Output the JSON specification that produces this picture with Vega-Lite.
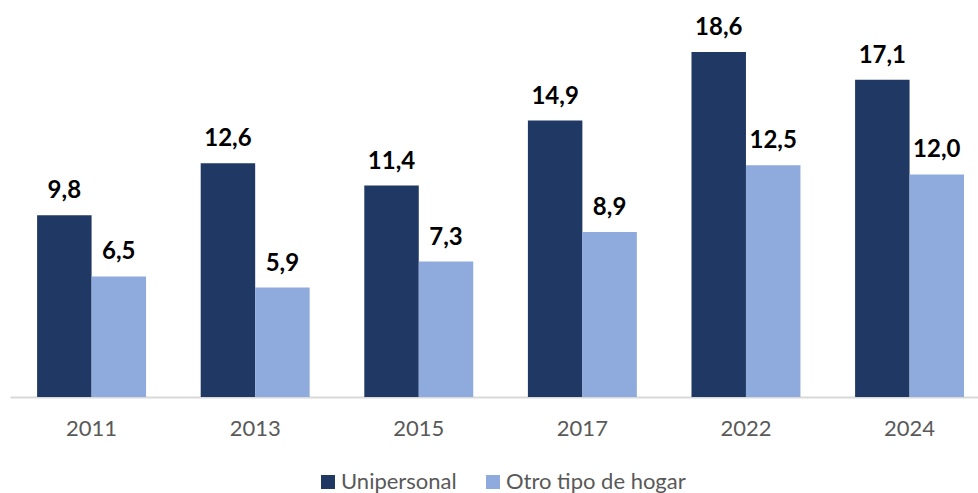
{
  "$schema": "https://vega.github.io/schema/vega-lite/v6.json",
  "autosize": "none",
  "width": 968,
  "height": 371,
  "padding": {"left": 10, "top": 26, "right": 0, "bottom": 96},
  "background": "white",
  "config": {
    "locale": {"number": {"decimal": ",", "thousands": ".", "grouping": [3], "currency": ["", " €"]}},
    "view": {"stroke": null},
    "font": "Lato"
  },
  "data": {
    "values": [
      {"anio": "2011", "serie": "Unipersonal", "valor": 9.8},
      {"anio": "2011", "serie": "Otro tipo de hogar", "valor": 6.5},
      {"anio": "2013", "serie": "Unipersonal", "valor": 12.6},
      {"anio": "2013", "serie": "Otro tipo de hogar", "valor": 5.9},
      {"anio": "2015", "serie": "Unipersonal", "valor": 11.4},
      {"anio": "2015", "serie": "Otro tipo de hogar", "valor": 7.3},
      {"anio": "2017", "serie": "Unipersonal", "valor": 14.9},
      {"anio": "2017", "serie": "Otro tipo de hogar", "valor": 8.9},
      {"anio": "2022", "serie": "Unipersonal", "valor": 18.6},
      {"anio": "2022", "serie": "Otro tipo de hogar", "valor": 12.5},
      {"anio": "2024", "serie": "Unipersonal", "valor": 17.1},
      {"anio": "2024", "serie": "Otro tipo de hogar", "valor": 12.0}
    ]
  },
  "encoding": {
    "x": {
      "field": "anio", "type": "nominal", "sort": null,
      "scale": {"paddingInner": 0.334, "paddingOuter": 0.1255, "align": 0.66},
      "axis": {
        "title": null, "labelAngle": 0, "ticks": false,
        "domainColor": "#d9d9d9", "domainWidth": 2,
        "labelFontSize": 22, "labelColor": "#595959", "labelPadding": 21,
        "labelFont": "Lato"
      }
    },
    "xOffset": {
      "field": "serie", "type": "nominal",
      "sort": ["Unipersonal", "Otro tipo de hogar"],
      "scale": {"paddingInner": 0, "paddingOuter": 0}
    },
    "y": {
      "field": "valor", "type": "quantitative",
      "scale": {"domain": [0, 20], "nice": false},
      "axis": null
    }
  },
  "layer": [
    {
      "mark": {"type": "bar"},
      "encoding": {
        "color": {
          "field": "serie", "type": "nominal",
          "sort": ["Unipersonal", "Otro tipo de hogar"],
          "scale": {"domain": ["Unipersonal", "Otro tipo de hogar"], "range": ["#203864", "#8faadc"]},
          "legend": {
            "title": null, "orient": "none", "direction": "horizontal",
            "legendX": 307, "legendY": 445,
            "symbolType": "square", "symbolSize": 196, "symbolStrokeWidth": 0,
            "labelFontSize": 22, "labelColor": "#595959", "labelFont": "Lato",
            "labelLimit": 0, "columnPadding": 25, "labelOffset": 2
          }
        }
      }
    },
    {
      "mark": {"type": "text", "baseline": "alphabetic", "dy": -17, "fontSize": 24, "fontWeight": "bold", "color": "#000000", "font": "Lato"},
      "encoding": {
        "text": {"field": "valor", "type": "quantitative", "format": ".1f"}
      }
    }
  ]
}
